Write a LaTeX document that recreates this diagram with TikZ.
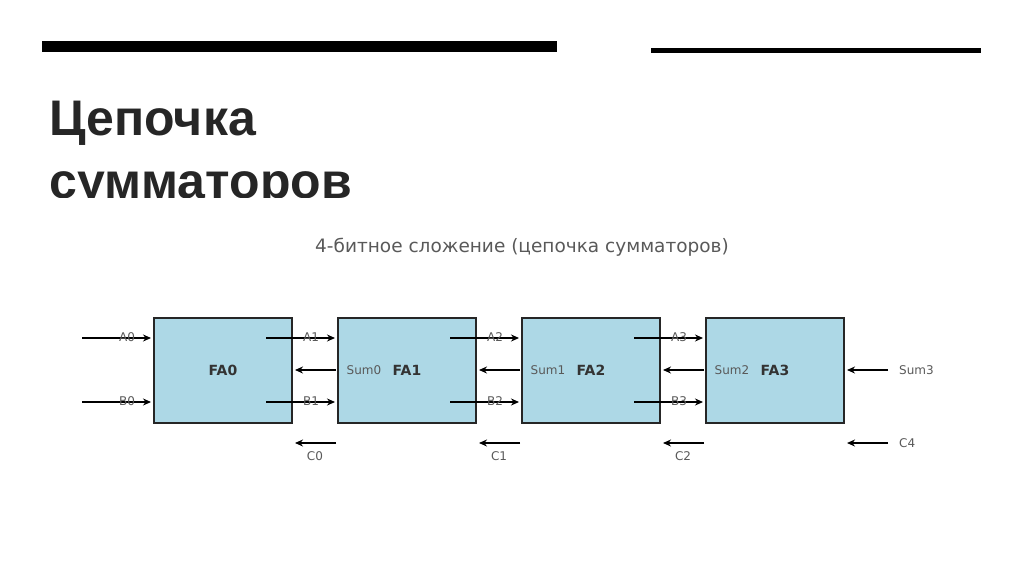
\documentclass[tikz,border=0pt]{standalone}
\usepackage{fontspec}
\setmainfont{DejaVu Sans}
\newfontfamily\titlefont{Liberation Sans}
\usetikzlibrary{arrows.meta}
\begin{document}
\begin{tikzpicture}[x=1pt,y=-1pt,
  fa/.style={draw=black!85,line width=1.3pt,fill={rgb,255:red,173;green,216;blue,230},minimum width=138pt,minimum height=105pt,inner sep=0pt},
  arr/.style={-{Stealth[length=8pt,width=7pt]},line width=2pt},
  lbl/.style={font=\fontsize{12}{14}\selectfont,text=black!65,inner sep=1pt}]
\useasboundingbox (0,0) rectangle (1024,574);
\fill[black] (42,41) rectangle (557,52);
\fill[black] (651,48) rectangle (981,53);
\begin{scope}
\clip (0,0) rectangle (1024,197);
\node[anchor=base west,font=\titlefont\bfseries\fontsize{50}{54}\selectfont,text=black!85] (t1) at (46,135) {Цепочка};
\node[anchor=base west,font=\titlefont\bfseries\fontsize{50}{54}\selectfont,text=black!85] (t2) at (46,198) {сумматоров};
\end{scope}
\node[font=\fontsize{18.5}{20}\selectfont,text=black!65] (sub) at (522,247) {4-битное сложение (цепочка сумматоров)};
\foreach \i in {0,1,2,3}{
  \pgfmathsetmacro\cx{223+184*\i}
  \node[fa] (fa\i) at (\cx,370.5) {};
}
\node[font=\bfseries\fontsize{14}{16}\selectfont,text=black!80] (n0) at (223,370) {FA0};
\node[font=\bfseries\fontsize{14}{16}\selectfont,text=black!80] (n1) at (407,370) {FA1};
\node[font=\bfseries\fontsize{14}{16}\selectfont,text=black!80] (n2) at (591,370) {FA2};
\node[font=\bfseries\fontsize{14}{16}\selectfont,text=black!80] (n3) at (775,370) {FA3};
\node[lbl] (s0) at (364,370) {Sum0};
\node[lbl] (s1) at (548,370) {Sum1};
\node[lbl] (s2) at (732,370) {Sum2};
\coordinate (a0s) at (82,338); \coordinate (a0e) at (151,338);
\coordinate (b0s) at (82,402); \coordinate (b0e) at (151,402);
\draw[arr] (a0s) -- (a0e); \draw[arr] (b0s) -- (b0e);
\node[lbl,anchor=south] (la0) at (127,343) {A0};
\node[lbl,anchor=south] (lb0) at (127,407) {B0};
\foreach \i/\j in {1/0,2/1,3/2}{
  \pgfmathsetmacro\xs{266+184*(\i-1)}
  \pgfmathsetmacro\xe{335+184*(\i-1)}
  \pgfmathsetmacro\xl{311+184*(\i-1)}
  \coordinate (as\i) at (\xs,338); \coordinate (ae\i) at (\xe,338);
  \coordinate (bs\i) at (\xs,402); \coordinate (be\i) at (\xe,402);
  \draw[arr] (as\i) -- (ae\i); \draw[arr] (bs\i) -- (be\i);
  \node[lbl,anchor=south] (la\i) at (\xl,343) {A\i};
  \node[lbl,anchor=south] (lb\i) at (\xl,407) {B\i};
}
\foreach \i in {0,1,2}{
  \pgfmathsetmacro\xs{336+184*\i}
  \pgfmathsetmacro\xe{295+184*\i}
  \pgfmathsetmacro\xl{315+184*\i}
  \coordinate (ss\i) at (\xs,370); \coordinate (se\i) at (\xe,370);
  \draw[arr] (ss\i) -- (se\i);
  \coordinate (cs\i) at (\xs,443); \coordinate (ce\i) at (\xe,443);
  \draw[arr] (cs\i) -- (ce\i);
  \node[lbl] (lc\i) at (\xl,456) {C\i};
}
\coordinate (s3s) at (888,370); \coordinate (s3e) at (847,370);
\draw[arr] (s3s) -- (s3e);
\node[lbl,anchor=west] (ls3) at (898,370) {Sum3};
\coordinate (c4s) at (888,443); \coordinate (c4e) at (847,443);
\draw[arr] (c4s) -- (c4e);
\node[lbl,anchor=west] (lc4) at (898,443) {C4};
\end{tikzpicture}
\end{document}
